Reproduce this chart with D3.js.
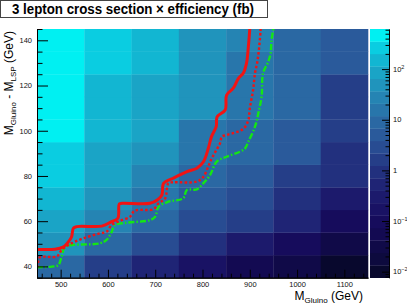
<!DOCTYPE html>
<html>
<head>
<meta charset="utf-8">
<script src="https://cdn.jsdelivr.net/npm/d3@7.9.0/dist/d3.min.js"></script>
<style>
  body { margin: 0; background: #fff; }
  svg { display: block; font-family: "Liberation Sans", Arial, sans-serif; }
  .axis text { font-size: 7.5px; fill: #111; }
  .axis path, .axis line { stroke: #000; }
</style>
</head>
<body>
<svg id="chart" width="407" height="304"></svg>
<script>
// gluino mass bin centres (GeV) and mass-difference bin centres (GeV)
const gluinoMass = [500, 600, 700, 800, 900, 1000, 1100];
const massDiff = [40, 50, 60, 70, 80, 90, 100, 110, 120, 130, 140];

// cross section x efficiency (fb), one row per massDiff value
const xsecEff = [
  [8.9, 1.6, 0.53, 0.17, 0.055, 0.03, 0.0095],
  [48, 9, 2.9, 0.92, 0.3, 0.1, 0.031],
  [88, 28, 9.0, 2.9, 1.6, 0.52, 0.097],
  [150, 47, 16, 5.1, 2.8, 0.9, 0.3],
  [250, 80, 28, 8.8, 5.0, 1.7, 0.9],
  [270, 88, 49, 15, 8.5, 4.9, 0.95],
  [560, 145, 83, 16, 9.0, 5.2, 1.6],
  [520, 148, 84, 46, 15, 8.5, 1.7],
  [500, 150, 86, 47, 15.5, 8.7, 1.6],
  [480, 270, 155, 50, 16, 9.2, 5.0],
  [470, 260, 150, 48, 27, 8.9, 5.1]
];

// contour lines [M_gluino, dM]
const limitSolid = [[450,47.5],[488,47.6],[505,48.5],[515,50.5],[523,53],[527,56.9],[534,57.6],[587,57.8],[605,59.5],[621,61.3],[624,67.6],[630,67.9],[689,67.9],[705,69.5],[714,71.5],[718,76.8],[738,79.0],[767,81.9],[788,83.4],[802,86.3],[812,92],[819,97.4],[829,101.8],[831,106.2],[848,109.2],[851,115.8],[865,118.8],[876,123.2],[886,125.4],[893,129.8],[897,137.2],[900,145]];
const limitDotted = [[450,39.5],[452,41.5],[456,44.0],[492,44.4],[502,47.2],[520,49.9],[548,52.4],[583,54.6],[597,55.3],[608,58.3],[626,60.2],[647,62.0],[654,64.2],[661,64.9],[696,65.3],[707,67.9],[721,70.1],[728,76.8],[738,77.2],[788,77.5],[802,79.7],[812,84.1],[819,87.5],[828,91],[837,94.4],[841,97.4],[851,98.1],[886,100.8],[897,104.7],[900,109.9],[907,118],[911,125.4],[916,130.5],[920,137.2],[923,145]];
const limitDashDot = [[450,39.6],[481,39.9],[495,40.6],[502,44.3],[509,48.7],[527,49.5],[583,50.2],[597,51.7],[608,55.3],[615,58.3],[640,59.3],[689,60.5],[700,62.0],[707,66.4],[728,68.6],[759,70.1],[767,73.8],[788,74.1],[802,76.8],[816,80.4],[830,86.3],[851,88.5],[879,90.7],[890,92.2],[897,95.2],[911,101.8],[918,107.7],[925,115.1],[928,125.4],[939,130.5],[944,134.2],[946,140.1],[950,145]];

const zMin = 0.0076, zMax = 620, nBands = 20;
const palette = [
  [8,8,45],[13,10,62],[16,10,72],[19,10,82],[22,12,92],[25,18,100],[28,26,108],
  [31,36,117],[34,48,126],[37,62,136],[40,76,146],[42,90,155],[42,104,163],
  [40,118,171],[37,132,179],[32,148,188],[26,164,198],[18,182,210],[10,205,225],[0,240,242]
].map(c => d3.rgb(...c).toString());

const svg = d3.select("#chart");
const plotLeft = 37, plotRight = 368, plotTop = 29, plotBottom = 277.7;

const x = d3.scaleLinear().domain([450, 1150]).range([plotLeft, plotRight]);
const y = d3.scaleLinear().domain([35, 145]).range([plotBottom, plotTop]);
const band = d3.scaleLog().domain([zMin, zMax]).range([0, nBands]);
const colorOf = v => palette[Math.max(0, Math.min(nBands - 1, Math.floor(band(v))))];

// title box
svg.append("rect").attr("x", 0.5).attr("y", 0.5).attr("width", 267).attr("height", 17)
  .attr("fill", "#fff").attr("stroke", "#444");
svg.append("text").attr("x", 12).attr("y", 13.5)
  .attr("font-size", 14).attr("font-weight", "bold")
  .attr("textLength", 242).attr("lengthAdjust", "spacingAndGlyphs")
  .text("3 lepton cross section \u00d7 efficiency (fb)");

// cells
const cells = [];
massDiff.forEach((dm, i) => gluinoMass.forEach((m, j) => cells.push({ m, dm, v: xsecEff[i][j] })));
svg.append("g").selectAll("rect").data(cells).join("rect")
  .attr("x", d => x(d.m - 50))
  .attr("y", d => y(d.dm + 5))
  .attr("width", d => x(d.m + 50) - x(d.m - 50) + 0.3)
  .attr("height", d => y(d.dm - 5) - y(d.dm + 5) + 0.3)
  .attr("fill", d => colorOf(d.v));

// contours
svg.append("clipPath").attr("id", "plotclip").append("rect")
  .attr("x", plotLeft).attr("y", plotTop).attr("width", plotRight - plotLeft).attr("height", plotBottom - plotTop);
const line = d3.line().x(d => x(d[0])).y(d => y(d[1])).curve(d3.curveCatmullRom.alpha(0.5));
const curves = svg.append("g").attr("clip-path", "url(#plotclip)").attr("fill", "none");
curves.append("path").attr("d", line(limitDashDot))
  .attr("stroke", "#14e614").attr("stroke-width", 2.4).attr("stroke-dasharray", "6,2,1.5,2");
curves.append("path").attr("d", line(limitDotted))
  .attr("stroke", "#f01414").attr("stroke-width", 2.4).attr("stroke-dasharray", "2.5,2.2");
curves.append("path").attr("d", line(limitSolid))
  .attr("stroke", "#f01414").attr("stroke-width", 3);

// axes
const xMinor = d3.range(460, 1150, 20).filter(v => v % 100 !== 0);
const yMinor = d3.range(35, 146, 5).filter(v => v % 20 !== 0);

svg.append("g").attr("class", "axis").attr("transform", `translate(0,${plotBottom})`)
  .call(d3.axisBottom(x).tickValues(xMinor).tickSize(-4).tickSizeOuter(0).tickFormat(""));
svg.append("g").attr("class", "axis").attr("transform", `translate(0,${plotBottom})`)
  .call(d3.axisBottom(x).tickValues(gluinoMass).tickSize(-8).tickSizeOuter(0).tickPadding(3.5).tickFormat(d3.format("d")));
svg.append("g").attr("class", "axis").attr("transform", `translate(${plotLeft},0)`)
  .call(d3.axisLeft(y).tickValues(yMinor).tickSize(-5.5).tickSizeOuter(0).tickFormat(""));
svg.append("g").attr("class", "axis").attr("transform", `translate(${plotLeft},0)`)
  .call(d3.axisLeft(y).tickValues([40, 60, 80, 100, 120, 140]).tickSize(-11).tickSizeOuter(0).tickPadding(5));
svg.selectAll(".axis .domain").attr("stroke-width", 1);

// axis titles
const xt = svg.append("text").attr("x", 363).attr("y", 300).attr("text-anchor", "end").attr("font-size", 12);
xt.append("tspan").text("M");
xt.append("tspan").attr("font-size", 8).attr("dy", 3).text("Gluino");
xt.append("tspan").attr("dy", -3).text(" (GeV)");

const yt = svg.append("text").attr("transform", "translate(13,31) rotate(-90)")
  .attr("text-anchor", "end").attr("font-size", 12);
yt.append("tspan").text("M");
yt.append("tspan").attr("font-size", 8).attr("dy", 3).text("Gluino");
yt.append("tspan").attr("dy", -3).text(" - M");
yt.append("tspan").attr("font-size", 8).attr("dy", 3).text("LSP");
yt.append("tspan").attr("dy", -3).text(" (GeV)");

// colour bar
const cbLeft = 370, cbRight = 389;
const zY = d3.scaleLog().domain([zMin, zMax]).range([plotBottom, plotTop]);
const bandEdges = d3.range(nBands + 1).map(i => Math.pow(10, Math.log10(zMin) + i * (Math.log10(zMax) - Math.log10(zMin)) / nBands));
svg.append("g").selectAll("rect").data(d3.range(nBands)).join("rect")
  .attr("x", cbLeft).attr("width", cbRight - cbLeft)
  .attr("y", i => zY(bandEdges[i + 1]))
  .attr("height", i => zY(bandEdges[i]) - zY(bandEdges[i + 1]) + 0.3)
  .attr("fill", i => palette[i]);

const zMajor = [0.01, 0.1, 1, 10, 100];
const zMinorTicks = [];
[0.001, 0.01, 0.1, 1, 10, 100].forEach(d => d3.range(2, 10).forEach(k => {
  const v = d * k;
  if (v > zMin && v < zMax) zMinorTicks.push(v);
}));
const cbAxis = svg.append("g").attr("class", "axis").attr("transform", `translate(${cbRight},0)`);
cbAxis.append("g").call(d3.axisRight(zY).tickValues(zMinorTicks).tickSize(-3.5).tickSizeOuter(0).tickFormat(""));
cbAxis.append("g").call(d3.axisRight(zY).tickValues(zMajor).tickSize(-7).tickSizeOuter(0).tickFormat(""));
cbAxis.selectAll(".domain").attr("stroke", "#000");

const zLabels = svg.append("g").attr("font-size", 7.5).attr("fill", "#111");
zMajor.forEach(v => {
  const e = Math.round(Math.log10(v));
  const t = zLabels.append("text").attr("x", 393).attr("y", zY(v) + 2.7);
  if (e === 0) t.text("1");
  else if (e === 1) t.text("10");
  else {
    t.append("tspan").text("10");
    t.append("tspan").attr("font-size", 5.5).attr("dy", -3).text(String(e).replace("-", "\u2212"));
  }
});
</script>
</body>
</html>
